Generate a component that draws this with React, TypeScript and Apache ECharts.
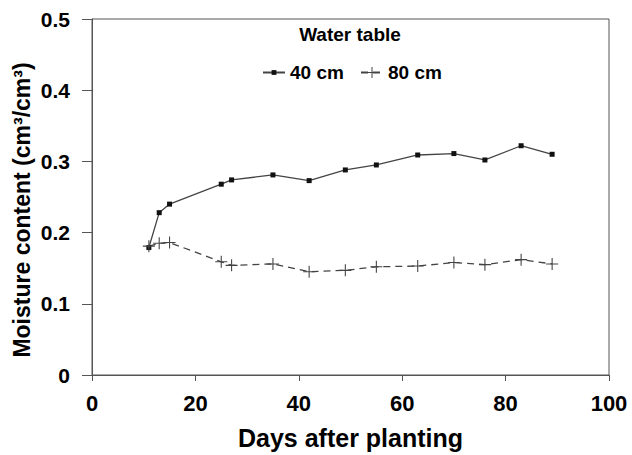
import React, { useEffect, useRef } from "react";
import * as echarts from "echarts";

const days40 = [11, 13, 15, 25, 27, 35, 42, 49, 55, 63, 70, 76, 83, 89];
const values40 = [0.179, 0.228, 0.24, 0.268, 0.274, 0.281, 0.273, 0.288, 0.295, 0.309, 0.311, 0.302, 0.322, 0.31];
const days80 = [11, 13, 15, 25, 27, 35, 42, 49, 55, 63, 70, 76, 83, 89];
const values80 = [0.181, 0.185, 0.186, 0.159, 0.154, 0.156, 0.145, 0.147, 0.152, 0.153, 0.158, 0.155, 0.162, 0.156];
const seriesNames = ["40 cm", "80 cm"];
const legendTitle = "Water table";
const xTitle = "Days after planting";
const yTitle = "Moisture content (cm³/cm³)";

const FONT = "Liberation Sans, Arial, sans-serif";
const PLUS = "path://M4.55,0H5.45V4.55H10V5.45H5.45V10H4.55V5.45H0V4.55H4.55Z";
const AXIS = "#555";

export default function App() {
  const ref = useRef<HTMLDivElement>(null);
  useEffect(() => {
    if (!ref.current) return;
    const chart = echarts.init(ref.current, undefined, { renderer: "svg" });
    const legendText = { fontFamily: FONT, fontWeight: "bold", fontSize: 19, color: "#000" };
    chart.setOption({
      animation: false,
      backgroundColor: "#fff",
      textStyle: { fontFamily: FONT },
      grid: { left: 92, right: 23, top: 19, bottom: 79, show: true, borderColor: AXIS, borderWidth: 1 },
      graphic: [
        {
          type: "text",
          x: 350,
          y: 34,
          style: { text: legendTitle, font: `bold 19px ${FONT}`, fill: "#000", textAlign: "center", textVerticalAlign: "middle" },
        },
        {
          type: "text",
          x: 22,
          y: 210,
          rotation: Math.PI / 2,
          style: { text: yTitle, font: `bold 23px ${FONT}`, fill: "#000", textAlign: "center", textVerticalAlign: "middle" },
        },
      ],
      legend: [
        {
          data: [seriesNames[0]],
          left: 257,
          top: 58,
          itemWidth: 22,
          itemHeight: 6,
          itemGap: 5,
          textStyle: legendText,
        },
        {
          data: [seriesNames[1]],
          left: 355,
          top: 58,
          itemWidth: 22,
          itemHeight: 14,
          itemGap: 5,
          textStyle: legendText,
        },
      ],
      xAxis: {
        type: "value",
        min: 0,
        max: 100,
        interval: 20,
        name: xTitle,
        nameLocation: "middle",
        nameGap: 50,
        nameTextStyle: { fontFamily: FONT, fontWeight: "bold", fontSize: 25, color: "#000" },
        axisLine: { lineStyle: { color: AXIS } },
        axisTick: { inside: false, length: 6, lineStyle: { color: AXIS } },
        axisLabel: { fontFamily: FONT, fontWeight: "bold", fontSize: 22, color: "#000", margin: 17 },
        splitLine: { show: false },
      },
      yAxis: {
        type: "value",
        min: 0,
        max: 0.5,
        interval: 0.1,
        axisLine: { lineStyle: { color: AXIS } },
        axisTick: { inside: false, length: 10, lineStyle: { color: AXIS } },
        axisLabel: {
          fontFamily: FONT,
          fontWeight: "bold",
          fontSize: 21,
          color: "#000",
          margin: 22,
          formatter: (v: number) => (v === 0 ? "0" : v.toFixed(1)),
        },
        splitLine: { show: false },
      },
      series: [
        {
          name: seriesNames[0],
          type: "line",
          data: days40.map((d, i) => [d, values40[i]]),
          symbol: "rect",
          symbolSize: 5,
          itemStyle: { color: "#111" },
          lineStyle: { color: "#444", width: 1.3, type: "solid" },
        },
        {
          name: seriesNames[1],
          type: "line",
          data: days80.map((d, i) => [d, values80[i]]),
          symbol: PLUS,
          symbolSize: 12,
          itemStyle: { color: "#444" },
          lineStyle: { color: "#444", width: 1.3, type: [7, 5] },
        },
      ],
    });
    return () => chart.dispose();
  }, []);
  return <div ref={ref} style={{ width: 632, height: 455, position: "absolute", left: 0, top: 0 }} />;
}
